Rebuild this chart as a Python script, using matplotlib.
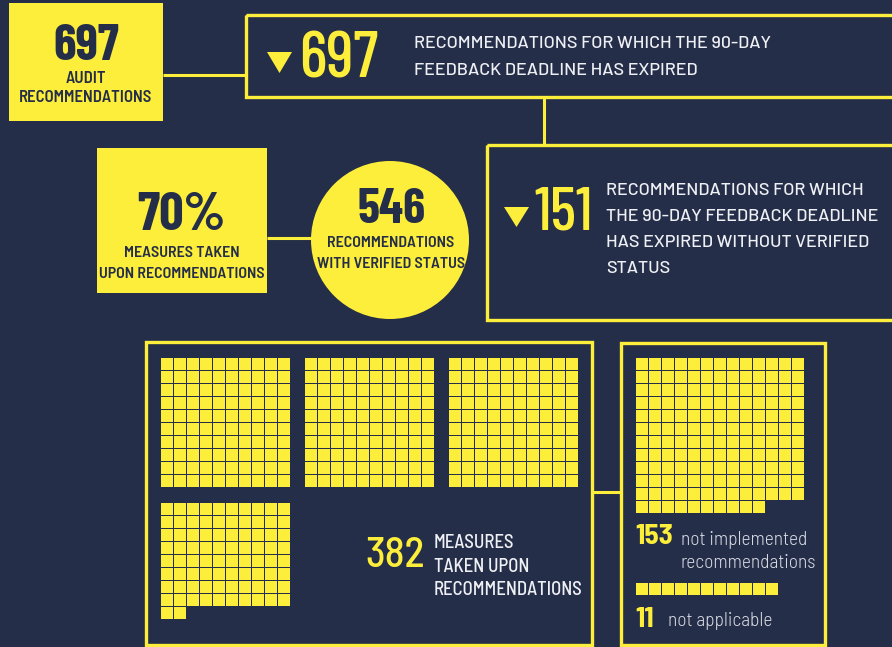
import os
import matplotlib.pyplot as plt
from matplotlib.patches import Rectangle, Circle, Polygon
from matplotlib import font_manager
from matplotlib.font_manager import FontProperties

# figures
audit_total = 697
expired_deadline = 697
verified_status = 546
expired_unverified = 151
measures_pct = 70
measures_taken = 382
not_implemented = 153
not_applicable = 11

BG = "#252e49"
YELLOW = "#fcee3a"
WHITE = "#eef0f4"
GREY = "#d6d9e2"

# DIN-like faces, looked up by file name
FILES = {os.path.basename(f.fname).lower(): f.fname
         for f in font_manager.fontManager.ttflist}
FALLBACK = {
    "barlow": ["barlow", "barlowsemicondensed", "asapcondensed"],
    "barlowsemicondensed": ["barlowsemicondensed", "barlowcondensed", "asapcondensed"],
    "barlowcondensed": ["barlowcondensed", "barlowsemicondensed", "asapcondensed"],
}


def fp(family, weight, size):
    for fam in FALLBACK[family]:
        key = f"{fam}-{weight}.ttf"
        if key in FILES:
            return FontProperties(fname=FILES[key], size=size)
    return FontProperties(family="DejaVu Sans", size=size * 0.8,
                          weight="bold" if weight in ("bold", "semibold") else "normal")


fig = plt.figure(figsize=(8.92, 6.47), dpi=100, facecolor=BG)
ax = fig.add_axes([0, 0, 1, 1])
ax.set_xlim(0, 892)
ax.set_ylim(647, 0)
ax.axis("off")


def text(x, y, s, font, color, ha="left"):
    ax.text(x, y, s, ha=ha, va="baseline", fontproperties=fp(*font),
            color=color, zorder=4)


def box(x0, y0, x1, y1, filled=False):
    if filled:
        ax.add_patch(Rectangle((x0, y0), x1 - x0, y1 - y0, facecolor=YELLOW,
                               edgecolor="none", zorder=2))
    else:
        ax.add_patch(Rectangle((x0, y0), x1 - x0, y1 - y0, facecolor="none",
                               edgecolor=YELLOW, linewidth=2.4, zorder=2))


def line(xs, ys):
    ax.plot(xs, ys, color=YELLOW, linewidth=2.2, solid_capstyle="butt", zorder=1)


def triangle(x0, y0, w, h):
    ax.add_patch(Polygon([(x0, y0), (x0 + w, y0), (x0 + w / 2, y0 + h)],
                         closed=True, facecolor=YELLOW, edgecolor="none", zorder=3))


def waffle(n, x0, y0, ncols, pitch=13, size=12):
    for i in range(n):
        r, c = divmod(i, ncols)
        ax.add_patch(Rectangle((x0 + c * pitch, y0 + r * pitch), size, size,
                               facecolor=YELLOW, edgecolor="none",
                               antialiased=False, zorder=3))


BIG_BOLD = ("barlowcondensed", "bold")
BIG_NUM = ("barlowcondensed", "medium")
LABEL = ("barlowsemicondensed", "semibold")
DESC = ("barlow", "medium")
DESC_NARROW = ("barlowsemicondensed", "medium")

# connectors
line([163, 246], [75, 75])
line([544, 544], [97, 145])
line([267, 313], [238, 238])
line([592, 621], [492, 492])

# top left yellow box
box(9, 3, 163, 121, filled=True)
text(86, 60, f"{audit_total}", BIG_BOLD + (37,), BG, "center")
text(86, 83, "AUDIT", LABEL + (12,), BG, "center")
text(86, 102, "RECOMMENDATIONS", LABEL + (12,), BG, "center")

# top outlined box
box(246, 15, 905, 97)
triangle(267, 52, 25, 21)
text(299, 77, f"{expired_deadline}", BIG_NUM + (47,), YELLOW)
text(414, 48, "RECOMMENDATIONS FOR WHICH THE 90-DAY", DESC + (12.9,), WHITE)
text(414, 75, "FEEDBACK DEADLINE HAS EXPIRED", DESC + (12.9,), WHITE)

# 70 % box
box(97, 148, 267, 293, filled=True)
text(181, 230, f"{measures_pct}%", BIG_BOLD + (39,), BG, "center")
text(182, 257, "MEASURES TAKEN", LABEL + (11.5,), BG, "center")
text(182, 278, "UPON RECOMMENDATIONS", LABEL + (11.5,), BG, "center")

# verified circle
ax.add_patch(Circle((390, 240), 79, facecolor=YELLOW, edgecolor="none", zorder=2))
text(392, 223, f"{verified_status}", BIG_BOLD + (36,), BG, "center")
text(391, 247, "RECOMMENDATIONS", LABEL + (11.5,), BG, "center")
text(391, 268, "WITH VERIFIED STATUS", LABEL + (11.5,), BG, "center")

# 151 box
box(487, 145, 905, 320)
triangle(504, 207, 25, 20)
text(534, 230, f"{expired_unverified}", BIG_NUM + (44,), YELLOW)
for y, s in zip([195, 221, 247, 273],
                ["RECOMMENDATIONS FOR WHICH", "THE 90-DAY FEEDBACK DEADLINE",
                 "HAS EXPIRED WITHOUT VERIFIED", "STATUS"]):
    text(606, y, s, DESC + (12.9,), WHITE)

# measures taken waffle, blocks of 100
box(146, 342, 592, 645)
for k in range((measures_taken + 99) // 100):
    n = min(100, measures_taken - k * 100)
    waffle(n, 161 + (k % 3) * 144, 358 + (k // 3) * 145, 10)
text(365, 567, f"{measures_taken}", ("barlowsemicondensed", "medium", 30), YELLOW)
for y, s in zip([548, 572, 595], ["MEASURES", "TAKEN UPON", "RECOMMENDATIONS"]):
    text(434, y, s, DESC_NARROW + (13.5,), WHITE)

# not implemented / not applicable
box(621, 343, 825, 645)
waffle(not_implemented, 636, 358, 13)
text(635, 544, f"{not_implemented}", ("barlowsemicondensed", "bold", 21), YELLOW)
text(681, 545, "not implemented", ("barlowsemicondensed", "light", 14), GREY)
text(681, 568, "recommendations", ("barlowsemicondensed", "light", 14), GREY)
waffle(not_applicable, 636, 583, 11)
text(635, 627, f"{not_applicable}", ("barlowsemicondensed", "bold", 21), YELLOW)
text(668, 626, "not applicable", ("barlowsemicondensed", "light", 14), GREY)

fig.savefig("out.png", dpi=100, facecolor=BG)
